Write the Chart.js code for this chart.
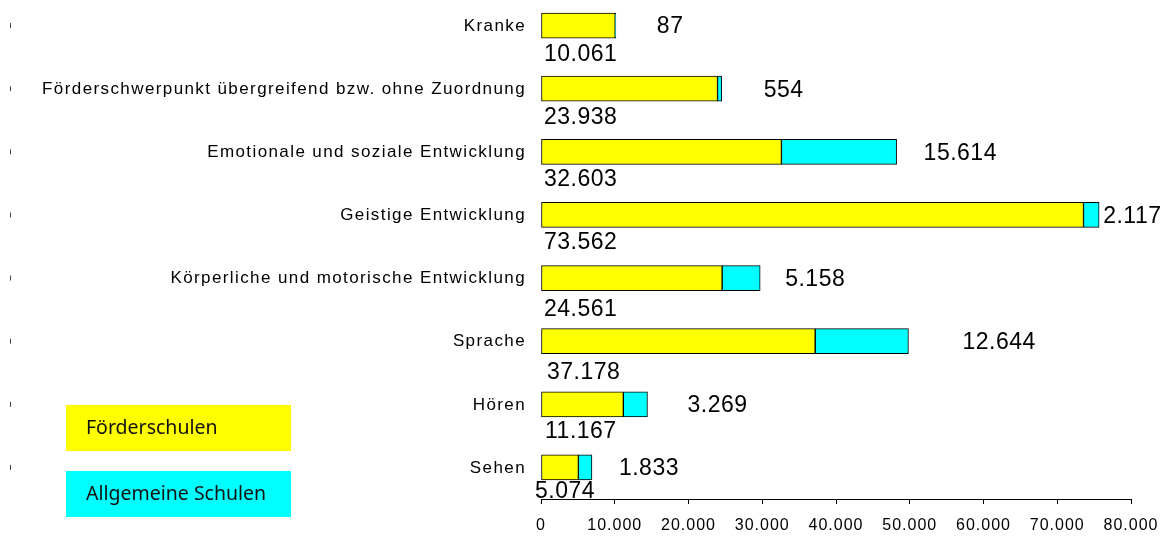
<!DOCTYPE html>
<html><head><meta charset="utf-8">
<script src="https://cdn.jsdelivr.net/npm/chart.js@4/dist/chart.umd.min.js"></script>
<style>
html,body{margin:0;padding:0;background:#fff;overflow:hidden;width:1171px;height:536px;position:relative;}
#wrap{position:absolute;left:0;top:-6px;width:1171px;height:542px;}
</style></head>
<body><div id="wrap"><canvas id="c" width="1171" height="542"></canvas></div>
<script>
// ---- data ----
const categories = [
  "Kranke",
  "Förderschwerpunkt übergreifend bzw. ohne Zuordnung",
  "Emotionale und soziale Entwicklung",
  "Geistige Entwicklung",
  "Körperliche und motorische Entwicklung",
  "Sprache",
  "Hören",
  "Sehen"
];
const seriesNames = ["Förderschulen", "Allgemeine Schulen"];
const foerderschulen    = [10061, 23938, 32603, 73562, 24561, 37178, 11167, 5074];
const allgemeineSchulen = [87, 554, 15614, 2117, 5158, 12644, 3269, 1833];
const xTickValues = [0, 10000, 20000, 30000, 40000, 50000, 60000, 70000, 80000];

// ---- style (label nudges in px, not data) ----
const OFF = 6; // canvas is shifted up by 6px
const rightLabelGap = [41, 42, 27, 4, 25, 54, 40, 27];
const belowLabelDx  = [3, 3, 3, 3, 3, 6, 4, -6];
const belowLabelDy  = [29, 29, 28, 28, 32, 31, 27, 24.5];
const colors = ["#FFFF00", "#00FFFF"];

function fmt(v){ return String(Math.round(v)).replace(/\B(?=(\d{3})+(?!\d))/g, "."); }

const labelPlugin = {
  id: "labels",
  beforeDraw(chart){
    chart.ctx.letterSpacing = "1px";
  },
  afterDatasetsDraw(chart){
    const ctx = chart.ctx;
    const m0 = chart.getDatasetMeta(0).data;
    const m1 = chart.getDatasetMeta(1).data;
    const x0 = chart.scales.x.getPixelForValue(0);
    ctx.save();
    // category labels
    ctx.letterSpacing = "1.4px";
    ctx.font = "17px 'Liberation Sans', Arial, sans-serif";
    ctx.fillStyle = "#000";
    ctx.textAlign = "right";
    ctx.textBaseline = "middle";
    categories.forEach((c, i) => {
      ctx.fillText(c, 526, m0[i].y + 0.5);
      ctx.fillStyle = "#444";
      ctx.fillRect(10, m0[i].y - 2.5, 1, 5);
      ctx.fillStyle = "#000";
    });
    // value labels
    ctx.letterSpacing = "0.5px";
    ctx.font = "23px 'Liberation Sans', Arial, sans-serif";
    ctx.textAlign = "left";
    categories.forEach((c, i) => {
      ctx.fillText(fmt(allgemeineSchulen[i]), m1[i].x + rightLabelGap[i], m1[i].y + 1.5);
      ctx.fillText(fmt(foerderschulen[i]), x0 + belowLabelDx[i], m0[i].y + belowLabelDy[i]);
    });
    ctx.restore();
  },
  afterDraw(chart){
    const ctx = chart.ctx;
    ctx.save();
    ctx.letterSpacing = "0px";
    const boxes = [[66, 405], [66, 471]];
    chart.data.datasets.forEach((ds, i) => {
      const [bx, by] = boxes[i];
      ctx.fillStyle = ds.backgroundColor;
      ctx.fillRect(bx, by + OFF, 225, 46);
      ctx.fillStyle = "#111";
      ctx.font = "19.5px 'Noto Sans', 'Open Sans', sans-serif";
      ctx.textAlign = "left";
      ctx.textBaseline = "middle";
      ctx.fillText(ds.label, bx + 20, by + OFF + 23);
    });
    ctx.restore();
  }
};

new Chart(document.getElementById("c"), {
  type: "bar",
  data: {
    labels: categories,
    datasets: [
      { label: seriesNames[0], data: foerderschulen, backgroundColor: colors[0], borderColor: "#000", borderWidth: 1, borderSkipped: false, barThickness: 25 },
      { label: seriesNames[1], data: allgemeineSchulen, backgroundColor: colors[1], borderColor: "#000", borderWidth: 1, borderSkipped: false, barThickness: 25 }
    ]
  },
  options: {
    indexAxis: "y",
    responsive: false,
    animation: false,
    devicePixelRatio: 1,
    layout: { padding: { left: 541, right: 40, top: 0, bottom: 0 } },
    plugins: { legend: { display: false }, tooltip: { enabled: false } },
    scales: {
      x: {
        stacked: true,
        min: 0, max: 80000,
        afterBuildTicks: s => { s.ticks = xTickValues.map(v => ({ value: v })); },
        afterFit: s => { s.height = 37; },
        ticks: {
          color: "#000",
          font: { family: "'Liberation Sans', Arial, sans-serif", size: 16 },
          padding: 12,
          maxRotation: 0,
          autoSkip: false,
          callback: v => fmt(v)
        },
        grid: { drawOnChartArea: false, drawTicks: true, tickLength: 5, color: "#000" },
        border: { display: true, color: "#000", width: 1 }
      },
      y: { stacked: true, display: false, offset: true }
    }
  },
  plugins: [labelPlugin]
});
</script>
</body></html>
